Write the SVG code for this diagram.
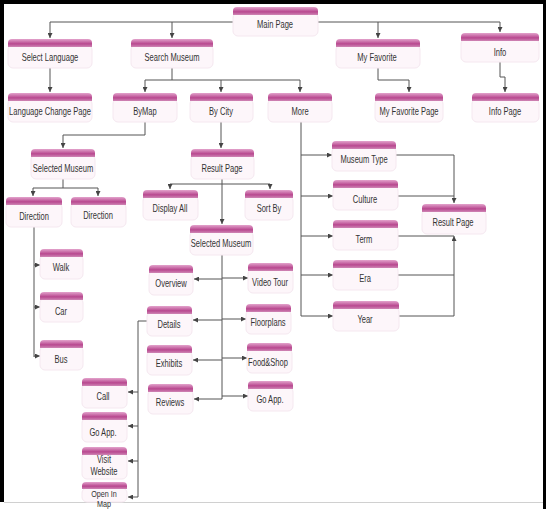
<svg xmlns="http://www.w3.org/2000/svg" width="546" height="509" viewBox="0 0 546 509">
<defs>
<linearGradient id="hg" x1="0" y1="0" x2="0" y2="1">
<stop offset="0" stop-color="#e3a3cc"/>
<stop offset="0.6" stop-color="#b8488f"/>
<stop offset="1" stop-color="#cf86b5"/>
</linearGradient>
<marker id="ar" viewBox="0 0 6 6" refX="6" refY="3" markerWidth="5" markerHeight="5" markerUnits="userSpaceOnUse" orient="auto">
<path d="M0,0 L6,3 L0,6 z" fill="#444"/>
</marker>
<style>
.hd{fill:url(#hg)}
.bd{fill:#fdf6fa;stroke:#f5e8f0;stroke-width:1}
.t{font-family:'Liberation Sans Narrow','Arial Narrow','Liberation Sans',sans-serif;font-size:10.5px;fill:#333;text-anchor:middle}
.s{font-size:9.5px}
.c{fill:none;stroke:#555;stroke-width:1}
.a{fill:none;stroke:#555;stroke-width:1;marker-end:url(#ar)}
</style>
</defs>
<rect x="0" y="0" width="546" height="509" fill="#fff"/>
<g id="frame">
<rect x="0" y="0" width="546" height="4" fill="#000"/>
<rect x="0" y="0" width="4" height="502" fill="#000"/>
<rect x="543" y="0" width="3" height="509" fill="#000"/>
<line x1="4" y1="502.5" x2="543" y2="502.5" stroke="#d0d0d0" stroke-width="1"/>
</g>
<g id="connectors">
<path class="c" d="M50,22 H500"/>
<path class="a" d="M50,22 V38"/>
<path class="a" d="M172,22 V38"/>
<path class="a" d="M378,22 V38"/>
<path class="a" d="M500,22 V32"/>
<path class="a" d="M50,68 V92"/>
<path class="c" d="M172,68 V80 M145,80 H300"/>
<path class="a" d="M145,80 V92"/>
<path class="a" d="M221,80 V92"/>
<path class="a" d="M300,80 V92"/>
<path class="a" d="M378,68 V80 H409 V92"/>
<path class="a" d="M500,62 V77 H505 V92"/>
<path class="a" d="M145,122 V135 H63 V148"/>
<path class="c" d="M63,179 V188 M33,188 H98"/>
<path class="a" d="M33,188 V196"/>
<path class="a" d="M98,188 V196"/>
<path class="c" d="M34,227 V357"/>
<path class="a" d="M34,265 H40"/>
<path class="a" d="M34,307 H40"/>
<path class="a" d="M34,356 H40"/>
<path class="a" d="M221,122 V148"/>
<path class="c" d="M170,184 H270"/>
<path class="a" d="M222,179 V224"/>
<path class="a" d="M170,184 V189"/>
<path class="a" d="M270,184 V189"/>
<path class="c" d="M222,255 V399"/>
<path class="a" d="M222,279 H194"/>
<path class="a" d="M222,320 H193"/>
<path class="a" d="M222,360 H193"/>
<path class="a" d="M222,399 H194"/>
<path class="a" d="M222,278 H248"/>
<path class="a" d="M222,319 H246"/>
<path class="a" d="M222,358 H247"/>
<path class="a" d="M222,396 H248"/>
<path class="c" d="M147,321 H138 V497"/>
<path class="a" d="M138,392 H128"/>
<path class="a" d="M138,426 H128"/>
<path class="a" d="M138,461 H128"/>
<path class="a" d="M138,497 H128"/>
<path class="c" d="M301,122 V316"/>
<path class="a" d="M301,155 H332"/>
<path class="a" d="M301,196 H333"/>
<path class="a" d="M301,236 H333"/>
<path class="a" d="M301,275 H333"/>
<path class="a" d="M301,316 H333"/>
<path class="a" d="M396,155 H454 V203"/>
<path class="c" d="M398,196 H454 M398,236 H454 M398,275 H454"/>
<path class="a" d="M398,316 H454 V236"/>
</g>
<g id="main-page"><rect class="bd" x="233" y="13" width="85" height="23" rx="5"/><path class="hd" d="M233,15 V11 Q233,7 237,7 H314 Q318,7 318,11 V15 Z"/><text class="t" transform="translate(275,28) scale(0.72,1)">Main Page</text></g>
<g id="select-language"><rect class="bd" x="8" y="45" width="84" height="23" rx="5"/><path class="hd" d="M8,47 V43 Q8,39 12,39 H88 Q92,39 92,43 V47 Z"/><text class="t" transform="translate(50,61) scale(0.72,1)">Select Language</text></g>
<g id="search-museum"><rect class="bd" x="131" y="45" width="82" height="23" rx="5"/><path class="hd" d="M131,47 V43 Q131,39 135,39 H209 Q213,39 213,43 V47 Z"/><text class="t" transform="translate(172,61) scale(0.72,1)">Search Museum</text></g>
<g id="my-favorite"><rect class="bd" x="336" y="45" width="84" height="23" rx="5"/><path class="hd" d="M336,47 V43 Q336,39 340,39 H416 Q420,39 420,43 V47 Z"/><text class="t" transform="translate(377,61) scale(0.72,1)">My Favorite</text></g>
<g id="info"><rect class="bd" x="461" y="39" width="78" height="23" rx="5"/><path class="hd" d="M461,41 V37 Q461,33 465,33 H535 Q539,33 539,37 V41 Z"/><text class="t" transform="translate(500,56) scale(0.72,1)">Info</text></g>
<g id="language-change-page"><rect class="bd" x="8" y="99" width="84" height="23" rx="5"/><path class="hd" d="M8,101 V97 Q8,93 12,93 H88 Q92,93 92,97 V101 Z"/><text class="t" transform="translate(50,115) scale(0.72,1)">Language Change Page</text></g>
<g id="by-map"><rect class="bd" x="113" y="99" width="64" height="23" rx="5"/><path class="hd" d="M113,101 V97 Q113,93 117,93 H173 Q177,93 177,97 V101 Z"/><text class="t" transform="translate(145,115) scale(0.72,1)">ByMap</text></g>
<g id="by-city"><rect class="bd" x="190" y="99" width="63" height="23" rx="5"/><path class="hd" d="M190,101 V97 Q190,93 194,93 H249 Q253,93 253,97 V101 Z"/><text class="t" transform="translate(221,115) scale(0.72,1)">By City</text></g>
<g id="more"><rect class="bd" x="268" y="99" width="64" height="23" rx="5"/><path class="hd" d="M268,101 V97 Q268,93 272,93 H328 Q332,93 332,97 V101 Z"/><text class="t" transform="translate(300,115) scale(0.72,1)">More</text></g>
<g id="my-favorite-page"><rect class="bd" x="375" y="99" width="68" height="23" rx="5"/><path class="hd" d="M375,101 V97 Q375,93 379,93 H439 Q443,93 443,97 V101 Z"/><text class="t" transform="translate(409,115) scale(0.72,1)">My Favorite Page</text></g>
<g id="info-page"><rect class="bd" x="472" y="99" width="67" height="23" rx="5"/><path class="hd" d="M472,101 V97 Q472,93 476,93 H535 Q539,93 539,97 V101 Z"/><text class="t" transform="translate(505,115) scale(0.72,1)">Info Page</text></g>
<g id="selected-museum-map"><rect class="bd" x="31" y="155" width="64" height="24" rx="5"/><path class="hd" d="M31,157 V153 Q31,149 35,149 H91 Q95,149 95,153 V157 Z"/><text class="t" transform="translate(63,172) scale(0.72,1)">Selected Museum</text></g>
<g id="result-page-city"><rect class="bd" x="191" y="155" width="63" height="24" rx="5"/><path class="hd" d="M191,157 V153 Q191,149 195,149 H250 Q254,149 254,153 V157 Z"/><text class="t" transform="translate(222,172) scale(0.72,1)">Result Page</text></g>
<g id="direction-1"><rect class="bd" x="6" y="203" width="56" height="24" rx="5"/><path class="hd" d="M6,205 V201 Q6,197 10,197 H58 Q62,197 62,201 V205 Z"/><text class="t" transform="translate(34,220) scale(0.72,1)">Direction</text></g>
<g id="direction-2"><rect class="bd" x="71" y="203" width="55" height="24" rx="5"/><path class="hd" d="M71,205 V201 Q71,197 75,197 H122 Q126,197 126,201 V205 Z"/><text class="t" transform="translate(98,219) scale(0.72,1)">Direction</text></g>
<g id="walk"><rect class="bd" x="40" y="255" width="43" height="24" rx="5"/><path class="hd" d="M40,257 V253 Q40,249 44,249 H79 Q83,249 83,253 V257 Z"/><text class="t" transform="translate(61,271) scale(0.72,1)">Walk</text></g>
<g id="car"><rect class="bd" x="40" y="298" width="43" height="24" rx="5"/><path class="hd" d="M40,300 V296 Q40,292 44,292 H79 Q83,292 83,296 V300 Z"/><text class="t" transform="translate(61,315) scale(0.72,1)">Car</text></g>
<g id="bus"><rect class="bd" x="40" y="346" width="43" height="24" rx="5"/><path class="hd" d="M40,348 V344 Q40,340 44,340 H79 Q83,340 83,344 V348 Z"/><text class="t" transform="translate(61,363) scale(0.72,1)">Bus</text></g>
<g id="display-all"><rect class="bd" x="143" y="196" width="55" height="24" rx="5"/><path class="hd" d="M143,198 V194 Q143,190 147,190 H194 Q198,190 198,194 V198 Z"/><text class="t" transform="translate(170,212) scale(0.72,1)">Display All</text></g>
<g id="sort-by"><rect class="bd" x="245" y="196" width="48" height="24" rx="5"/><path class="hd" d="M245,198 V194 Q245,190 249,190 H289 Q293,190 293,194 V198 Z"/><text class="t" transform="translate(269,212) scale(0.72,1)">Sort By</text></g>
<g id="selected-museum-city"><rect class="bd" x="190" y="231" width="63" height="24" rx="5"/><path class="hd" d="M190,233 V229 Q190,225 194,225 H249 Q253,225 253,229 V233 Z"/><text class="t" transform="translate(221,247) scale(0.72,1)">Selected Museum</text></g>
<g id="overview"><rect class="bd" x="149" y="271" width="44" height="24" rx="5"/><path class="hd" d="M149,273 V269 Q149,265 153,265 H189 Q193,265 193,269 V273 Z"/><text class="t" transform="translate(171,287) scale(0.72,1)">Overview</text></g>
<g id="details"><rect class="bd" x="147" y="312" width="45" height="24" rx="5"/><path class="hd" d="M147,314 V310 Q147,306 151,306 H188 Q192,306 192,310 V314 Z"/><text class="t" transform="translate(169,328) scale(0.72,1)">Details</text></g>
<g id="exhibits"><rect class="bd" x="147" y="351" width="45" height="24" rx="5"/><path class="hd" d="M147,353 V349 Q147,345 151,345 H188 Q192,345 192,349 V353 Z"/><text class="t" transform="translate(169,367) scale(0.72,1)">Exhibits</text></g>
<g id="reviews"><rect class="bd" x="148" y="390" width="45" height="24" rx="5"/><path class="hd" d="M148,392 V388 Q148,384 152,384 H189 Q193,384 193,388 V392 Z"/><text class="t" transform="translate(170,406) scale(0.72,1)">Reviews</text></g>
<g id="video-tour"><rect class="bd" x="248" y="269" width="45" height="24" rx="5"/><path class="hd" d="M248,271 V267 Q248,263 252,263 H289 Q293,263 293,267 V271 Z"/><text class="t" transform="translate(270,286) scale(0.72,1)">Video Tour</text></g>
<g id="floorplans"><rect class="bd" x="246" y="310" width="45" height="24" rx="5"/><path class="hd" d="M246,312 V308 Q246,304 250,304 H287 Q291,304 291,308 V312 Z"/><text class="t" transform="translate(268,326) scale(0.72,1)">Floorplans</text></g>
<g id="food-shop"><rect class="bd" x="247" y="349" width="45" height="24" rx="5"/><path class="hd" d="M247,351 V347 Q247,343 251,343 H288 Q292,343 292,347 V351 Z"/><text class="t" transform="translate(268,366) scale(0.72,1)">Food&amp;Shop</text></g>
<g id="go-app-1"><rect class="bd" x="248" y="387" width="45" height="24" rx="5"/><path class="hd" d="M248,389 V385 Q248,381 252,381 H289 Q293,381 293,385 V389 Z"/><text class="t" transform="translate(270,403) scale(0.72,1)">Go App.</text></g>
<g id="call"><rect class="bd" x="82" y="384" width="45" height="24" rx="5"/><path class="hd" d="M82,386 V382 Q82,378 86,378 H123 Q127,378 127,382 V386 Z"/><text class="t" transform="translate(103,400) scale(0.72,1)">Call</text></g>
<g id="go-app-2"><rect class="bd" x="82" y="418" width="45" height="24" rx="5"/><path class="hd" d="M82,420 V416 Q82,412 86,412 H123 Q127,412 127,416 V420 Z"/><text class="t" transform="translate(103,436) scale(0.72,1)">Go App.</text></g>
<g id="visit-website"><rect class="bd" x="82" y="453" width="45" height="26" rx="5"/><path class="hd" d="M82,455 V451 Q82,447 86,447 H123 Q127,447 127,451 V455 Z"/><text class="t" transform="translate(104,463) scale(0.72,1)">Visit</text><text class="t" transform="translate(104,475) scale(0.72,1)">Website</text></g>
<g id="open-in-map"><rect class="bd" x="82" y="488" width="45" height="14" rx="5"/><path class="hd" d="M82,489 V486 Q82,482 86,482 H123 Q127,482 127,486 V489 Z"/><text class="t s" transform="translate(104,497) scale(0.76,1)">Open In</text><text class="t s" transform="translate(104,507) scale(0.76,1)">Map</text></g>
<g id="museum-type"><rect class="bd" x="332" y="147" width="64" height="24" rx="5"/><path class="hd" d="M332,149 V145 Q332,141 336,141 H392 Q396,141 396,145 V149 Z"/><text class="t" transform="translate(364,163) scale(0.72,1)">Museum Type</text></g>
<g id="culture"><rect class="bd" x="333" y="186" width="65" height="24" rx="5"/><path class="hd" d="M333,188 V184 Q333,180 337,180 H394 Q398,180 398,184 V188 Z"/><text class="t" transform="translate(365,203) scale(0.72,1)">Culture</text></g>
<g id="term"><rect class="bd" x="333" y="226" width="65" height="24" rx="5"/><path class="hd" d="M333,228 V224 Q333,220 337,220 H394 Q398,220 398,224 V228 Z"/><text class="t" transform="translate(364,243) scale(0.72,1)">Term</text></g>
<g id="era"><rect class="bd" x="333" y="266" width="65" height="24" rx="5"/><path class="hd" d="M333,268 V264 Q333,260 337,260 H394 Q398,260 398,264 V268 Z"/><text class="t" transform="translate(365,282) scale(0.72,1)">Era</text></g>
<g id="year"><rect class="bd" x="333" y="307" width="66" height="24" rx="5"/><path class="hd" d="M333,309 V305 Q333,301 337,301 H395 Q399,301 399,305 V309 Z"/><text class="t" transform="translate(365,323) scale(0.72,1)">Year</text></g>
<g id="result-page-more"><rect class="bd" x="422" y="210" width="64" height="24" rx="5"/><path class="hd" d="M422,212 V208 Q422,204 426,204 H482 Q486,204 486,208 V212 Z"/><text class="t" transform="translate(453,226) scale(0.72,1)">Result Page</text></g>
</svg>
